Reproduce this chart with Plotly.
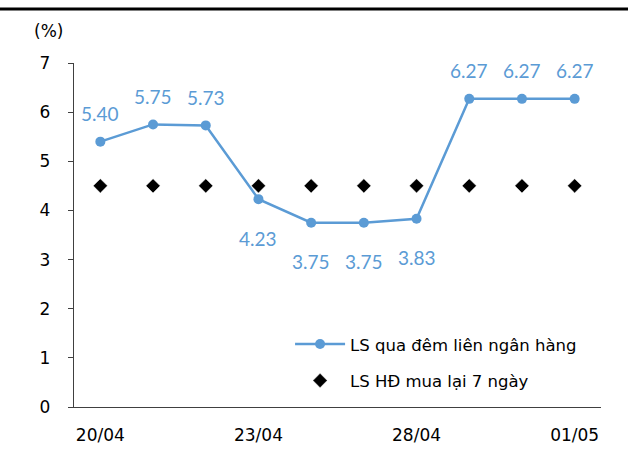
import plotly.graph_objects as go

dates = ["20/04", "21/04", "22/04", "23/04", "24/04", "27/04", "28/04", "29/04", "30/04", "01/05"]
tick_labels = ["20/04", "23/04", "28/04", "01/05"]
overnight = [5.40, 5.75, 5.73, 4.23, 3.75, 3.75, 3.83, 6.27, 6.27, 6.27]
repo7 = [4.5, 4.5, 4.5, 4.5, 4.5, 4.5, 4.5, 4.5, 4.5, 4.5]
label_pos = ["top", "top", "top", "bottom", "bottom", "bottom", "bottom", "top", "top", "top"]

BLUE = "#5B9BD5"
AXIS_FONT = "DejaVu Sans"

fig = go.Figure()
fig.add_trace(go.Scatter(
    x=dates, y=overnight, mode="lines+markers", name="LS qua đêm liên ngân hàng",
    legendgroup="a",
    line=dict(color=BLUE, width=2.5), marker=dict(color=BLUE, size=10),
))
fig.add_trace(go.Scatter(
    x=dates, y=repo7, mode="markers", name="LS HĐ mua lại 7 ngày",
    legendgroup="b",
    marker=dict(symbol="diamond", color="black", size=11, line=dict(color="white", width=0.5)),
))

for d, v, p in zip(dates, overnight, label_pos):
    fig.add_annotation(
        x=d, y=v, text=f"{v:.2f}", showarrow=False,
        yshift=28 if p == "top" else -39,
        font=dict(family="Lato", size=19, color=BLUE),
    )

fig.add_annotation(
    x=-0.049, xref="paper", y=1.094, yref="paper", text="(%)", showarrow=False,
    xanchor="center", yanchor="middle",
    font=dict(family=AXIS_FONT, size=17, color="black"),
)

fig.add_shape(type="line", xref="paper", yref="paper",
              x0=-0.15, x1=1.06, y0=1.157, y1=1.157,
              line=dict(color="black", width=3))

fig.update_layout(
    width=628, height=457,
    margin=dict(l=74, r=27, t=63, b=44),
    paper_bgcolor="white", plot_bgcolor="white",
    font=dict(family=AXIS_FONT, size=17, color="black"),
    showlegend=True,
    legend=dict(x=0.41, y=0.233, xanchor="left", yanchor="top",
                bgcolor="rgba(0,0,0,0)", font=dict(size=16.5, color="black"),
                tracegroupgap=12, itemwidth=50),
    xaxis=dict(
        type="category", range=[-0.5, 9.5], tickmode="array",
        tickvals=tick_labels, ticktext=tick_labels,
        showline=True, linecolor="#404040", linewidth=1.3,
        ticks="", showgrid=False, zeroline=False,
        ticklabelstandoff=12,
    ),
    yaxis=dict(
        range=[0, 7], dtick=1, showline=True, linecolor="#404040", linewidth=1.3,
        ticks="outside", ticklen=5, tickcolor="#404040",
        showgrid=False, zeroline=False, ticklabelstandoff=14,
    ),
)

fig.write_html("out.html", config={"displayModeBar": False},
               post_script="document.body.style.margin='0';document.body.style.overflow='hidden';")
